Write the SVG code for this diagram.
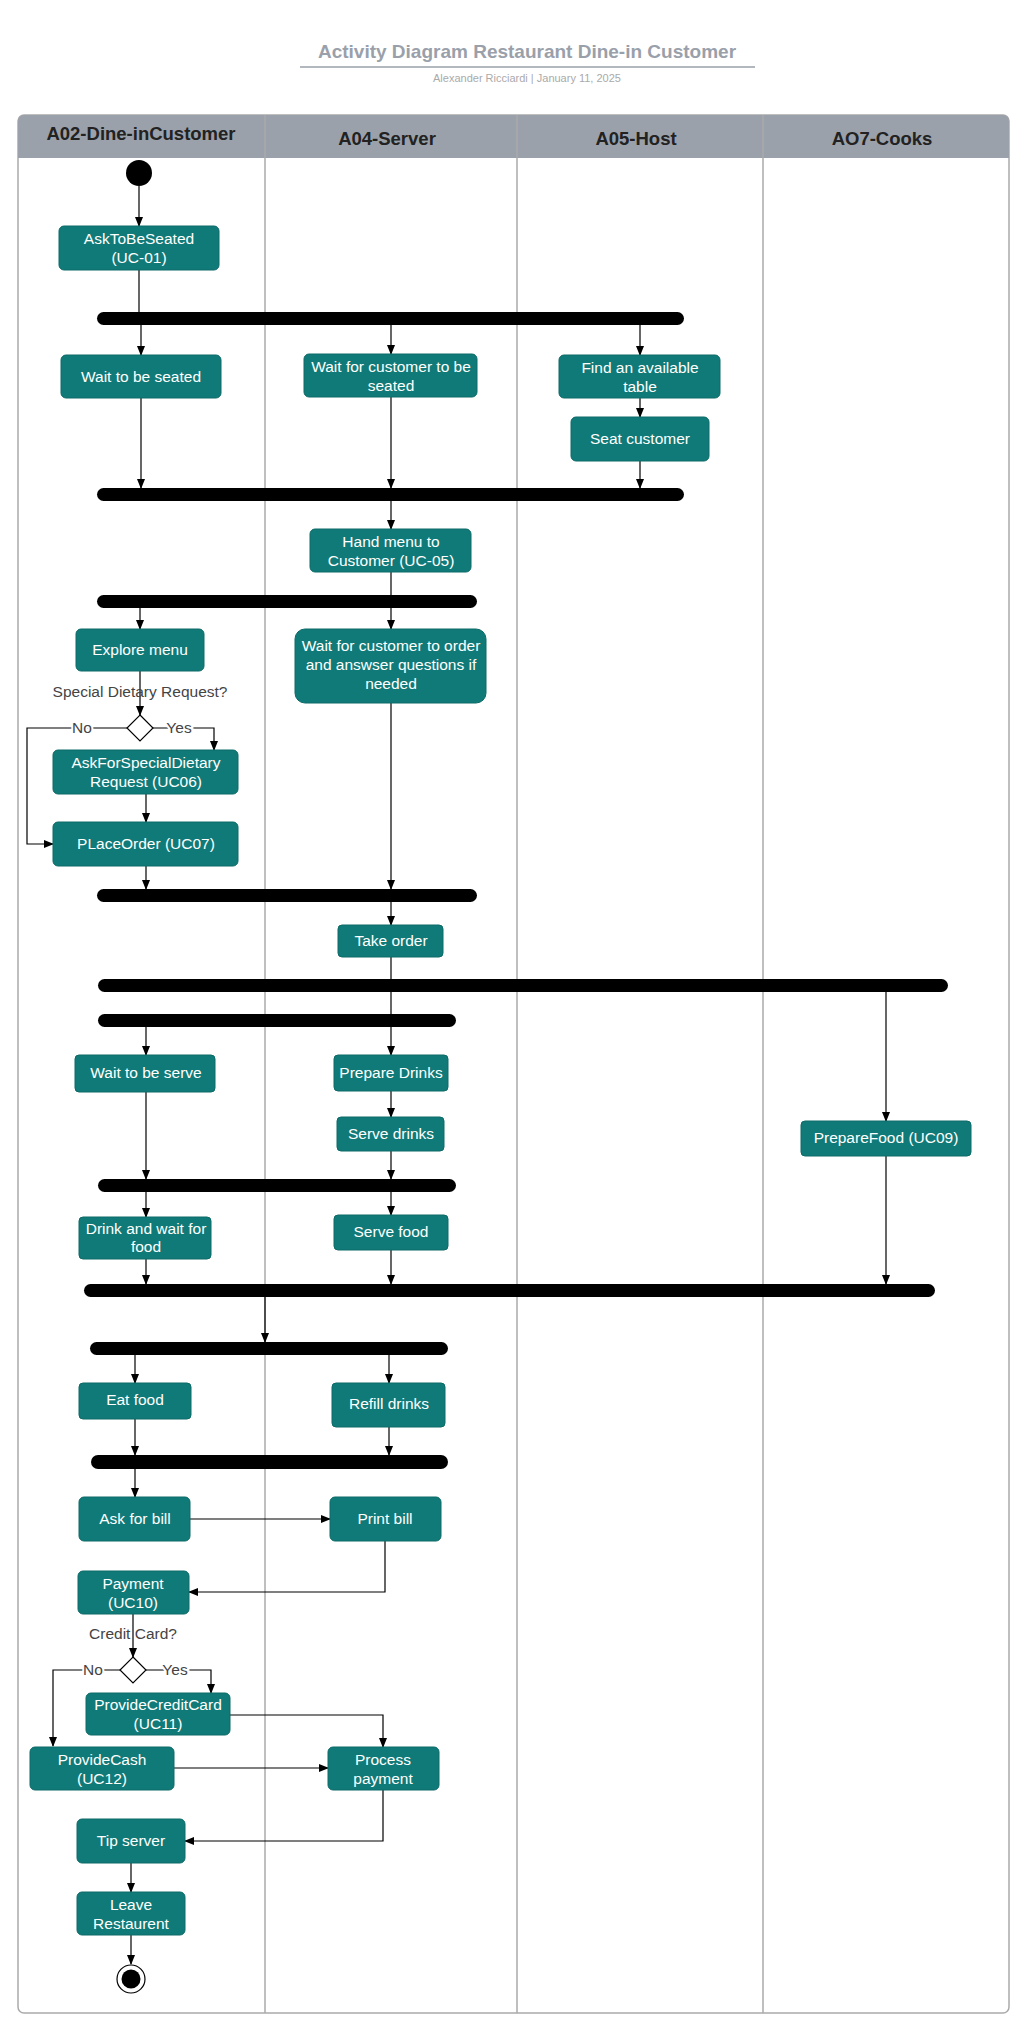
<svg xmlns="http://www.w3.org/2000/svg" width="1024" height="2024" viewBox="0 0 1024 2024">
<defs>
<marker id="ah" markerWidth="10" markerHeight="10" refX="9" refY="5" orient="auto" markerUnits="userSpaceOnUse"><path d="M0,1 L10,5 L0,9 z" fill="#000"/></marker>
<style>
.n{fill:#107a78;stroke:#0c6a68;stroke-width:1}
.t{font-family:"Liberation Sans",Arial,sans-serif;font-size:15.5px;fill:#fff;text-anchor:middle}
.bar{fill:#000}
.c{fill:none;stroke:#000;stroke-width:1.2;marker-end:url(#ah)}
.l{fill:none;stroke:#000;stroke-width:1.2}
.h{font-family:"Liberation Sans",Arial,sans-serif;font-size:18.5px;font-weight:bold;fill:#222;text-anchor:middle}
.g{font-family:"Liberation Sans",Arial,sans-serif;font-size:15.5px;fill:#444;text-anchor:middle}
.lane{stroke:#aaa;stroke-width:1.5}
</style>
</defs>
<rect width="1024" height="2024" fill="#fff"/>
<g id="title">
<text x="527" y="58" font-family="Liberation Sans,Arial,sans-serif" font-size="19" font-weight="bold" fill="#9aa0aa" text-anchor="middle">Activity Diagram Restaurant Dine-in Customer</text>
<line x1="300" y1="67" x2="755" y2="67" stroke="#9aa0aa" stroke-width="1.5"/>
<text x="527" y="82" font-family="Liberation Sans,Arial,sans-serif" font-size="11" fill="#aaa" text-anchor="middle">Alexander Ricciardi  |  January 11, 2025</text>
</g>
<g id="pool">
<rect x="18" y="115" width="991" height="1898" rx="6" fill="#fff" stroke="#aaa" stroke-width="1.5"/>
<path d="M18,158 V121 a6,6 0 0 1 6,-6 H1003 a6,6 0 0 1 6,6 V158 z" fill="#9ba1aa"/>
<line class="lane" x1="265" y1="115" x2="265" y2="2013"/>
<line class="lane" x1="517" y1="115" x2="517" y2="2013"/>
<line class="lane" x1="763" y1="115" x2="763" y2="2013"/>
<text class="h" x="141" y="140">A02-Dine-inCustomer</text>
<text class="h" x="387" y="145">A04-Server</text>
<text class="h" x="636" y="145">A05-Host</text>
<text class="h" x="882" y="145">AO7-Cooks</text>
</g>
<g id="bars">
<rect class="bar" x="97" y="312" width="587" height="13" rx="6.5"/>
<rect class="bar" x="97" y="488" width="587" height="13" rx="6.5"/>
<rect class="bar" x="97" y="595" width="380" height="13" rx="6.5"/>
<rect class="bar" x="97" y="889" width="380" height="13" rx="6.5"/>
<rect class="bar" x="98" y="979" width="850" height="13" rx="6.5"/>
<rect class="bar" x="98" y="1014" width="358" height="13" rx="6.5"/>
<rect class="bar" x="98" y="1179" width="358" height="13" rx="6.5"/>
<rect class="bar" x="84" y="1284" width="851" height="13" rx="6.5"/>
<rect class="bar" x="90" y="1342" width="358" height="13" rx="6.5"/>
<rect class="bar" x="91" y="1455" width="357" height="14" rx="7"/>
</g>
<g id="connectors">
<path class="c" d="M139,186 V226"/>
<path class="l" d="M139,270 V312"/>
<path class="c" d="M141,325 V355"/>
<path class="c" d="M391,325 V354"/>
<path class="c" d="M640,325 V355"/>
<path class="c" d="M640,398 V417"/>
<path class="c" d="M141,398 V488"/>
<path class="c" d="M391,397 V488"/>
<path class="c" d="M640,461 V488"/>
<path class="c" d="M391,501 V529"/>
<path class="l" d="M391,572 V595"/>
<path class="c" d="M140,608 V629"/>
<path class="c" d="M391,608 V629"/>
<path class="c" d="M140,671 V715"/>
<path class="c" d="M153,728 H214 V750"/>
<path class="c" d="M127,728 H27 V844 H53"/>
<path class="c" d="M146,794 V822"/>
<path class="c" d="M146,866 V889"/>
<path class="c" d="M391,703 V889"/>
<path class="c" d="M391,902 V925"/>
<path class="l" d="M391,957 V1014"/>
<path class="c" d="M146,1027 V1055"/>
<path class="c" d="M391,1027 V1055"/>
<path class="c" d="M391,1091 V1117"/>
<path class="c" d="M886,992 V1121"/>
<path class="c" d="M146,1092 V1179"/>
<path class="c" d="M391,1151 V1179"/>
<path class="c" d="M146,1192 V1217"/>
<path class="c" d="M391,1192 V1215"/>
<path class="c" d="M146,1259 V1284"/>
<path class="c" d="M391,1250 V1284"/>
<path class="c" d="M886,1156 V1284"/>
<path class="c" d="M265,1297 V1342"/>
<path class="c" d="M135,1355 V1383"/>
<path class="c" d="M389,1355 V1383"/>
<path class="c" d="M135,1419 V1455"/>
<path class="c" d="M389,1427 V1455"/>
<path class="c" d="M135,1469 V1497"/>
<path class="c" d="M190,1519 H330"/>
<path class="c" d="M385,1541 V1592 H189"/>
<path class="c" d="M133,1614 V1657"/>
<path class="c" d="M146,1670 H211 V1693"/>
<path class="c" d="M120,1670 H53 V1746"/>
<path class="c" d="M230,1715 H383 V1747"/>
<path class="c" d="M174,1768 H328"/>
<path class="c" d="M383,1790 V1841 H185"/>
<path class="c" d="M131,1863 V1892"/>
<path class="c" d="M131,1935 V1964"/>
</g>
<g id="start"><circle cx="139" cy="173" r="13" fill="#000"/></g>
<g id="n1"><rect class="n" x="59" y="226" width="160" height="44" rx="5"/><text class="t" x="139" y="244">AskToBeSeated</text><text class="t" x="139" y="263">(UC-01)</text></g>
<g id="n2"><rect class="n" x="61" y="355" width="160" height="43" rx="5"/><text class="t" x="141" y="382">Wait to be seated</text></g>
<g id="n3"><rect class="n" x="304" y="354" width="173" height="43" rx="5"/><text class="t" x="391" y="372">Wait for customer to be</text><text class="t" x="391" y="391">seated</text></g>
<g id="n4"><rect class="n" x="559" y="355" width="161" height="43" rx="5"/><text class="t" x="640" y="373">Find an available</text><text class="t" x="640" y="392">table</text></g>
<g id="n5"><rect class="n" x="571" y="417" width="138" height="44" rx="5"/><text class="t" x="640" y="444">Seat customer</text></g>
<g id="n6"><rect class="n" x="310" y="529" width="161" height="43" rx="5"/><text class="t" x="391" y="547">Hand menu to</text><text class="t" x="391" y="566">Customer (UC-05)</text></g>
<g id="n7"><rect class="n" x="76" y="629" width="128" height="42" rx="5"/><text class="t" x="140" y="655">Explore menu</text></g>
<g id="n8"><rect class="n" x="295" y="629" width="191" height="74" rx="10"/><text class="t" x="391" y="651">Wait for customer to order</text><text class="t" x="391" y="670">and answser questions if</text><text class="t" x="391" y="689">needed</text></g>
<text class="g" x="140" y="697">Special Dietary Request?</text>
<g id="d1"><path d="M140,715 L153,728 L140,741 L127,728 z" fill="#fff" stroke="#000" stroke-width="1.2"/></g>
<text class="g" x="82" y="733" style="paint-order:stroke" stroke="#fff" stroke-width="4">No</text>
<text class="g" x="179" y="733" style="paint-order:stroke" stroke="#fff" stroke-width="4">Yes</text>
<g id="n9"><rect class="n" x="53" y="750" width="185" height="44" rx="5"/><text class="t" x="146" y="768">AskForSpecialDietary</text><text class="t" x="146" y="787">Request (UC06)</text></g>
<g id="n10"><rect class="n" x="53" y="822" width="185" height="44" rx="5"/><text class="t" x="146" y="849">PLaceOrder (UC07)</text></g>
<g id="n11"><rect class="n" x="338" y="925" width="105" height="32" rx="4"/><text class="t" x="391" y="946">Take order</text></g>
<g id="n12"><rect class="n" x="75" y="1055" width="140" height="37" rx="4"/><text class="t" x="146" y="1078">Wait to be serve</text></g>
<g id="n13"><rect class="n" x="334" y="1055" width="114" height="36" rx="4"/><text class="t" x="391" y="1078">Prepare Drinks</text></g>
<g id="n14"><rect class="n" x="337" y="1117" width="107" height="34" rx="4"/><text class="t" x="391" y="1139">Serve drinks</text></g>
<g id="n15"><rect class="n" x="801" y="1121" width="170" height="35" rx="4"/><text class="t" x="886" y="1143">PrepareFood (UC09)</text></g>
<g id="n16"><rect class="n" x="79" y="1217" width="132" height="42" rx="4"/><text class="t" x="146" y="1234">Drink and wait for</text><text class="t" x="146" y="1252">food</text></g>
<g id="n17"><rect class="n" x="334" y="1215" width="114" height="35" rx="4"/><text class="t" x="391" y="1237">Serve food</text></g>
<g id="n18"><rect class="n" x="79" y="1383" width="112" height="36" rx="4"/><text class="t" x="135" y="1405">Eat food</text></g>
<g id="n19"><rect class="n" x="332" y="1383" width="113" height="44" rx="4"/><text class="t" x="389" y="1409">Refill drinks</text></g>
<g id="n20"><rect class="n" x="79" y="1497" width="111" height="44" rx="5"/><text class="t" x="135" y="1524">Ask for bill</text></g>
<g id="n21"><rect class="n" x="330" y="1497" width="111" height="44" rx="5"/><text class="t" x="385" y="1524">Print bill</text></g>
<g id="n22"><rect class="n" x="78" y="1571" width="111" height="43" rx="5"/><text class="t" x="133" y="1589">Payment</text><text class="t" x="133" y="1608">(UC10)</text></g>
<text class="g" x="133" y="1639">Credit Card?</text>
<g id="d2"><path d="M133,1657 L146,1670 L133,1683 L120,1670 z" fill="#fff" stroke="#000" stroke-width="1.2"/></g>
<text class="g" x="93" y="1675" style="paint-order:stroke" stroke="#fff" stroke-width="4">No</text>
<text class="g" x="175" y="1675" style="paint-order:stroke" stroke="#fff" stroke-width="4">Yes</text>
<g id="n23"><rect class="n" x="86" y="1693" width="144" height="42" rx="5"/><text class="t" x="158" y="1710">ProvideCreditCard</text><text class="t" x="158" y="1729">(UC11)</text></g>
<g id="n24"><rect class="n" x="30" y="1747" width="144" height="43" rx="5"/><text class="t" x="102" y="1765">ProvideCash</text><text class="t" x="102" y="1784">(UC12)</text></g>
<g id="n25"><rect class="n" x="328" y="1747" width="111" height="43" rx="5"/><text class="t" x="383" y="1765">Process</text><text class="t" x="383" y="1784">payment</text></g>
<g id="n26"><rect class="n" x="77" y="1819" width="108" height="44" rx="5"/><text class="t" x="131" y="1846">Tip server</text></g>
<g id="n27"><rect class="n" x="77" y="1892" width="108" height="43" rx="5"/><text class="t" x="131" y="1910">Leave</text><text class="t" x="131" y="1929">Restaurent</text></g>
<g id="end"><circle cx="131" cy="1979" r="14" fill="#fff" stroke="#000" stroke-width="1.2"/><circle cx="131" cy="1979" r="9.5" fill="#000"/></g>
</svg>
